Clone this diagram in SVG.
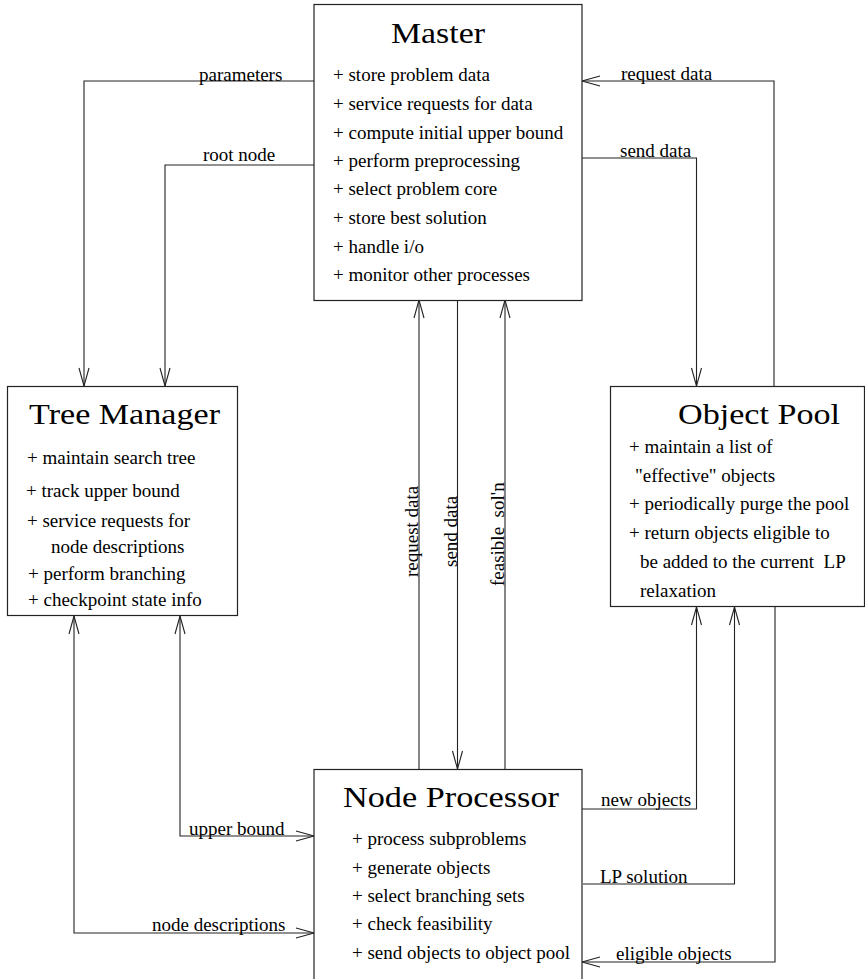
<svg xmlns="http://www.w3.org/2000/svg" width="865" height="979" viewBox="0 0 865 979">
<style>
  .box { fill: #fff; stroke: #222; stroke-width: 1.2; }
  .title { font-family: "Liberation Serif", "Times New Roman", serif; font-size: 30px; fill: #000; }
  .item { font-family: "Liberation Serif", "Times New Roman", serif; font-size: 19px; fill: #000; }
  .lbl { font-family: "Liberation Serif", "Times New Roman", serif; font-size: 19px; fill: #000; }
  .conn { fill: none; stroke: #222; stroke-width: 1.1; }
</style>
<defs>
  <marker id="arr" viewBox="-20 -7 22 14" refX="0" refY="0" markerWidth="22" markerHeight="14" markerUnits="userSpaceOnUse" orient="auto-start-reverse">
    <path d="M -18 -5 L 0 0 L -18 5" fill="none" stroke="#222" stroke-width="1.1"/>
  </marker>
</defs>
<rect width="865" height="979" fill="#fff"/>

<g id="connectors">
  <path class="conn" d="M314,81 H84 V386" marker-end="url(#arr)"/>
  <path class="conn" d="M314,165 H165 V386" marker-end="url(#arr)"/>
  <path class="conn" d="M774,386 V81 H582" marker-end="url(#arr)"/>
  <path class="conn" d="M582,158 H696.5 V386" marker-end="url(#arr)"/>
  <path class="conn" d="M419,769 V300" marker-end="url(#arr)"/>
  <path class="conn" d="M457.5,300 V769" marker-end="url(#arr)"/>
  <path class="conn" d="M505,769 V300" marker-end="url(#arr)"/>
  <path class="conn" d="M180,616 V836 H314" marker-start="url(#arr)" marker-end="url(#arr)"/>
  <path class="conn" d="M74,616 V933 H314" marker-start="url(#arr)" marker-end="url(#arr)"/>
  <path class="conn" d="M582,809 H696.5 V607" marker-end="url(#arr)"/>
  <path class="conn" d="M583,884 H734.5 V607" marker-end="url(#arr)"/>
  <path class="conn" d="M775,607 V962 H582" marker-end="url(#arr)"/>

  <text class="lbl" x="199" y="81">parameters</text>
  <text class="lbl" x="203" y="161">root node</text>
  <text class="lbl" x="621" y="80">request data</text>
  <text class="lbl" x="620" y="157">send data</text>
  <text class="lbl" transform="translate(418,577) rotate(-90)">request data</text>
  <text class="lbl" transform="translate(456.5,567) rotate(-90)">send data</text>
  <text class="lbl" transform="translate(504,586) rotate(-90)" xml:space="preserve">feasible  sol'n</text>
  <text class="lbl" x="189" y="835">upper bound</text>
  <text class="lbl" x="152" y="931">node descriptions</text>
  <text class="lbl" x="601" y="806">new objects</text>
  <text class="lbl" x="600" y="883">LP solution</text>
  <text class="lbl" x="616" y="960">eligible objects</text>
</g>

<g id="master">
  <rect class="box" x="314" y="4.5" width="268" height="296"/>
  <text class="title" x="391" y="43" textLength="94" lengthAdjust="spacingAndGlyphs">Master</text>
  <text class="item" x="333" y="81">+ store problem data</text>
  <text class="item" x="333" y="110">+ service requests for data</text>
  <text class="item" x="333" y="138.5">+ compute initial upper bound</text>
  <text class="item" x="333" y="166.5">+ perform preprocessing</text>
  <text class="item" x="333" y="195">+ select problem core</text>
  <text class="item" x="333" y="224">+ store best solution</text>
  <text class="item" x="333" y="252.5">+ handle i/o</text>
  <text class="item" x="333" y="281">+ monitor other processes</text>
</g>

<g id="tree-manager">
  <rect class="box" x="7.5" y="386.5" width="230" height="229"/>
  <text class="title" x="29" y="424" textLength="191" lengthAdjust="spacingAndGlyphs">Tree Manager</text>
  <text class="item" x="27" y="464">+ maintain search tree</text>
  <text class="item" x="26" y="496.5">+ track upper bound</text>
  <text class="item" x="27" y="527">+ service requests for</text>
  <text class="item" x="51" y="553">node descriptions</text>
  <text class="item" x="28" y="580">+ perform branching</text>
  <text class="item" x="28" y="606">+ checkpoint state info</text>
</g>

<g id="object-pool">
  <rect class="box" x="610.5" y="386.5" width="254" height="220"/>
  <text class="title" x="678" y="424" textLength="162" lengthAdjust="spacingAndGlyphs">Object Pool</text>
  <text class="item" x="629" y="453">+ maintain a list of</text>
  <text class="item" x="635" y="481.5">"effective" objects</text>
  <text class="item" x="629" y="510">+ periodically purge the pool</text>
  <text class="item" x="629" y="538.5">+ return objects eligible to</text>
  <text class="item" x="640" y="568" xml:space="preserve">be added to the current  LP</text>
  <text class="item" x="640" y="596.5">relaxation</text>
</g>

<g id="node-processor">
  <rect class="box" x="314" y="769.5" width="268" height="215"/>
  <text class="title" x="343" y="807" textLength="216" lengthAdjust="spacingAndGlyphs">Node Processor</text>
  <text class="item" x="352" y="845">+ process subproblems</text>
  <text class="item" x="352" y="873.5">+ generate objects</text>
  <text class="item" x="352" y="901.5">+ select branching sets</text>
  <text class="item" x="352" y="930">+ check feasibility</text>
  <text class="item" x="352" y="959">+ send objects to object pool</text>
</g>
</svg>
